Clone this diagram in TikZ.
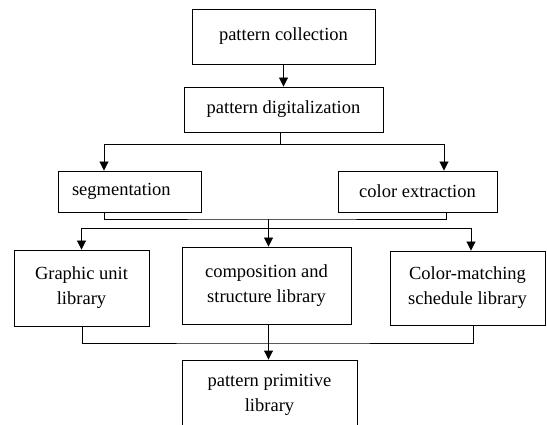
\documentclass[tikz,border=0pt]{standalone}
\usepackage{fontspec}
\setmainfont{Liberation Serif}
\usetikzlibrary{arrows.meta}
\begin{document}
\begin{tikzpicture}[x=1pt, y=-1pt,
    caja/.style={rectangle, draw=black, line width=0.9pt, align=center, font=\fontsize{18.5}{25}\selectfont, inner sep=0pt},
    cajaizq/.style={caja, align=left, inner xsep=14pt},
    flecha/.style={-{Triangle[length=9pt,width=9pt]}, line width=0.9pt},
    linea/.style={line width=0.9pt},
]
\useasboundingbox (0,0) rectangle (547,425);

\node (collection) [caja, minimum width=183pt, minimum height=55pt] at (283.5,36.5) {pattern collection};

\node (digital) [caja, minimum width=199pt, minimum height=45pt] at (283.5,109.5) {pattern digitalization};

\node (segment) [cajaizq, text width=115pt, minimum height=41pt] at (129.5,191.5) {segmentation};

\node (colorext) [caja, minimum width=159pt, minimum height=41pt] at (417.5,191.5) {color extraction};

\node (graphic) [caja, minimum width=135pt, minimum height=76pt] at (81.5,288) {Graphic unit\\ library};

\node (compos) [caja, minimum width=169pt, minimum height=77pt] at (266.5,285.5) {composition and\\ structure library};

\node (colormatch) [caja, minimum width=155pt, minimum height=74pt] at (467.5,288) {Color-matching\\ schedule library};

\node (primitive) [caja, minimum width=175pt, minimum height=70pt] at (269.5,395) {pattern primitive\\ library};

\coordinate (split1) at (280,144);
\coordinate (merge1) at (268.5,219);
\coordinate (split2) at (268.5,228);
\coordinate (merge2) at (268.5,343);

\draw [flecha] (collection.south) -- (digital.north);
\draw [linea] (digital.south -| split1) -- (split1);
\draw [flecha] (split1) -| ([xshift=-25.5pt]segment.north);
\draw [flecha] (split1) -| ([xshift=26.5pt]colorext.north);
\draw [linea] ([xshift=-25.5pt]segment.south) |- (merge1) -| ([xshift=28.5pt]colorext.south);
\draw [linea] (merge1) -- (split2);
\draw [flecha] (split2) -| (graphic.north);
\draw [flecha] (split2) -- (split2 |- compos.north);
\draw [flecha] (split2) -| ([xshift=3.5pt]colormatch.north);
\draw [linea] ([xshift=1pt]graphic.south) |- (merge2) -| ([xshift=5.5pt]colormatch.south);
\draw [flecha] (compos.south -| merge2) -- (merge2 |- primitive.north);

\end{tikzpicture}
\end{document}
